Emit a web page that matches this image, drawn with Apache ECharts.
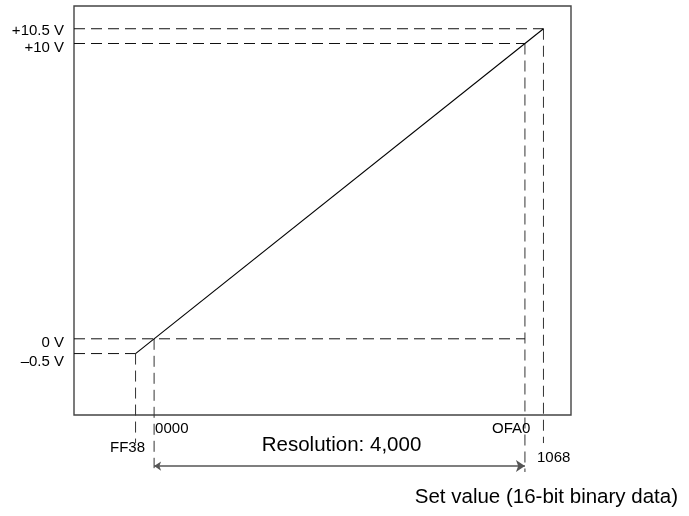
<!DOCTYPE html>
<html>
<head>
<meta charset="utf-8">
<script src="https://cdn.jsdelivr.net/npm/echarts@6/dist/echarts.min.js"></script>
<style>html,body{margin:0;padding:0;background:#fff}#c{width:689px;height:516px}</style>
</head>
<body>
<div id="c"></div>
<script>
// ---- data ----
const xCodes = [-200, 0, 4000, 4200];               // FF38, 0000, 0FA0, 1068 (decimal)
const xCodeLabels = ['FF38', '0000', 'OFA0', '1068'];
const voltages = [-0.5, 0, 10, 10.5];
const voltageLabels = ['\u20130.5 V', '0 V', '+10 V', '+10.5 V'];
const characteristic = [[-200, -0.5], [4200, 10.5]];
const resolutionText = 'Resolution: 4,000';
const resolutionRange = [0, 4000];
const xAxisTitle = 'Set value (16-bit binary data)';
// axis extents (value units)
const xMin = -864, xMax = 4497;
const yMin = -2.58, yMax = 11.27;
// how far the guide lines run below the frame (value units)
const guideEnd = { '-200': -3.53, '0': -4.38, '4000': -4.51, '4200': -3.53 };
const arrowLevel = -4.31;

const FONT = '"Liberation Sans", Arial, Helvetica, sans-serif';
const dash = { color: '#111', width: 1, type: [11, 6] };
const dashV = { color: '#333', width: 1, type: [11, 6] };

const chart = echarts.init(document.getElementById('c'), null, { renderer: 'canvas' });

function lineSeries(data, style) {
  return { type: 'line', data, symbol: 'none', clip: false, silent: true, animation: false, lineStyle: style, z: 3 };
}
function labelSeries(data) {
  return { type: 'scatter', symbolSize: 0, silent: true, animation: false, clip: false,
           itemStyle: { opacity: 1 }, data, z: 5 };
}

const series = [
  // +10.5 V guide -> 1068
  lineSeries([[xMin, voltages[3]], [xCodes[3], voltages[3]]], dash),
  lineSeries([[xCodes[3], voltages[3]], [xCodes[3], guideEnd['4200']]], dashV),
  // +10 V guide -> 0FA0
  lineSeries([[xMin, voltages[2]], [xCodes[2], voltages[2]]], dash),
  lineSeries([[xCodes[2], voltages[2]], [xCodes[2], guideEnd['4000']]], dashV),
  // 0 V guide
  lineSeries([[xMin, voltages[1]], [xCodes[2], voltages[1]]], dash),
  // 0000 vertical
  lineSeries([[xCodes[1], voltages[1]], [xCodes[1], guideEnd['0']]], dashV),
  // -0.5 V guide -> FF38
  lineSeries([[xMin, voltages[0]], [xCodes[0], voltages[0]]], dash),
  lineSeries([[xCodes[0], voltages[0]], [xCodes[0], guideEnd['-200']]], dashV),
  // characteristic
  lineSeries(characteristic, { color: '#000', width: 1.1 }),
  // resolution arrow
  {
    type: 'lines', coordinateSystem: 'cartesian2d', clip: false, silent: true, animation: false,
    symbol: ['arrow', 'arrow'], symbolSize: [7, 9],
    lineStyle: { color: '#555', width: 1.5, opacity: 1 },
    data: [{ coords: [[resolutionRange[0], arrowLevel], [resolutionRange[1], arrowLevel]] }],
    z: 4
  },
  // voltage labels
  labelSeries(voltages.map((v, i) => ({
    value: [xMin, v],
    label: {
      show: true, position: 'left', distance: 10,
      offset: [0, [8, 4, 4.5, 2][i]],
      formatter: voltageLabels[i], fontSize: 15, color: '#000', fontFamily: FONT
    }
  }))),
  // code labels
  labelSeries(xCodes.map((c, i) => ({
    value: [c, yMin],
    label: {
      show: true, position: 'inside',
      align: ['right', 'left', 'right', 'left'][i],
      verticalAlign: 'middle',
      offset: [[9.5, 1, 5.5, -6.5][i], [33, 14, 14, 43][i]],
      formatter: xCodeLabels[i], fontSize: 15, color: '#000', fontFamily: FONT
    }
  }))),
  // resolution text
  labelSeries([{
    value: [(resolutionRange[0] + resolutionRange[1]) / 2, yMin],
    label: {
      show: true, position: 'inside', align: 'center', verticalAlign: 'middle',
      offset: [2, 30], formatter: resolutionText, fontSize: 20.5, color: '#000', fontFamily: FONT
    }
  }])
];

chart.setOption({
  animation: false,
  backgroundColor: '#fff',
  grid: { left: 74, top: 6, width: 497, height: 409, show: true, borderColor: '#444', borderWidth: 1.4, backgroundColor: 'transparent', containLabel: false },
  xAxis: { type: 'value', min: xMin, max: xMax, axisLine: { show: false }, axisTick: { show: false }, axisLabel: { show: false }, splitLine: { show: false } },
  yAxis: { type: 'value', min: yMin, max: yMax, axisLine: { show: false }, axisTick: { show: false }, axisLabel: { show: false }, splitLine: { show: false } },
  graphic: [{
    type: 'text', right: 11, top: 487,
    style: { text: xAxisTitle, fontSize: 20.5, fill: '#000', fontFamily: FONT }
  }],
  series
});
</script>
</body>
</html>
